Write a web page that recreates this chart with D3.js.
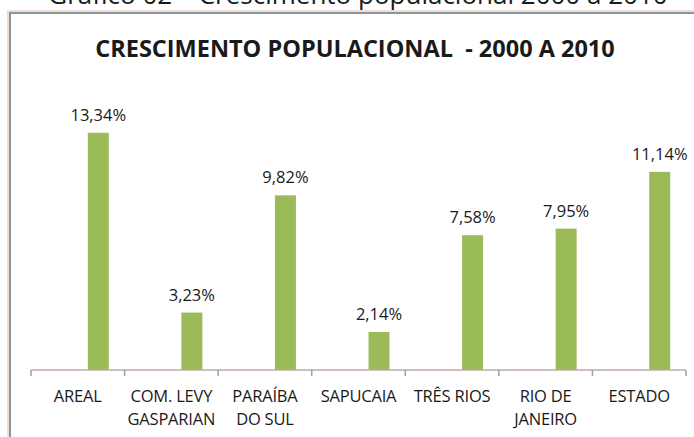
<!DOCTYPE html>
<html>
<head>
<meta charset="utf-8">
<script src="https://cdn.jsdelivr.net/npm/d3@7"></script>
<style>
  body { margin: 0; background: #fff; }
  text { font-family: "Open Sans", sans-serif; fill: #1a1a1a; }
</style>
</head>
<body>
<svg></svg>
<script>
const width = 694;
const height = 437;

// data
const categories = ["AREAL", "COM. LEVY GASPARIAN", "PARAÍBA DO SUL", "SAPUCAIA", "TRÊS RIOS", "RIO DE JANEIRO", "ESTADO"];
const labelLines = [["AREAL"], ["COM. LEVY", "GASPARIAN"], ["PARAÍBA", "DO SUL"], ["SAPUCAIA"], ["TRÊS RIOS"], ["RIO DE", "JANEIRO"], ["ESTADO"]];
const values = [13.34, 3.23, 9.82, 2.14, 7.58, 7.95, 11.14];

const svg = d3.select("svg")
  .attr("width", width)
  .attr("height", height);

// caption of the page, cut off at the top as in the scan
svg.append("text")
  .attr("x", 358)
  .attr("y", 4)
  .attr("text-anchor", "middle")
  .attr("font-size", 26)
  .text("Gráfico 02 – Crescimento populacional 2000 a 2010");

// chart frame
svg.append("rect")
  .attr("x", 9).attr("y", 12)
  .attr("width", 720).attr("height", 460)
  .attr("fill", "none")
  .attr("stroke", "#f7dccb")
  .attr("stroke-width", 4);
svg.append("rect")
  .attr("x", 10).attr("y", 13)
  .attr("width", 720).attr("height", 460)
  .attr("fill", "none")
  .attr("stroke", "#8797a2")
  .attr("stroke-width", 2);

svg.append("text")
  .attr("x", 355)
  .attr("y", 57)
  .attr("text-anchor", "middle")
  .attr("font-size", 23.5)
  .attr("font-weight", "bold")
  .attr("fill", "#000")
  .style("white-space", "pre")
  .text("CRESCIMENTO POPULACIONAL  - 2000 A 2010");

const x = d3.scaleBand()
  .domain(categories)
  .range([31, 686]);

const y = d3.scaleLinear()
  .domain([0, 14])
  .range([370, 121]);

const barW = 21;
const barShift = 20.5; // bars sit right of the category centre

const cx = d => x(d) + x.bandwidth() / 2;
const fmt = v => d3.format(".2f")(v).replace(".", ",") + "%";

// bars
svg.append("g")
  .selectAll("rect")
  .data(values)
  .enter().append("rect")
  .attr("x", (d, i) => cx(categories[i]) + barShift - barW / 2)
  .attr("y", d => y(d))
  .attr("width", barW)
  .attr("height", d => y(0) - y(d))
  .attr("fill", "#9bbb59");

// value labels
svg.append("g")
  .selectAll("text")
  .data(values)
  .enter().append("text")
  .attr("x", (d, i) => cx(categories[i]) + barShift)
  .attr("y", d => y(d) - 12)
  .attr("text-anchor", "middle")
  .attr("font-size", 16.5)
  .text(d => fmt(d));

// axis line and boundary ticks
const axis = svg.append("g");
axis.append("line")
  .attr("x1", x.range()[0]).attr("x2", x.range()[1])
  .attr("y1", y(0)).attr("y2", y(0))
  .attr("stroke", "#c3a9a9")
  .attr("stroke-width", 1.5);
axis.selectAll(".tick")
  .data(categories.map(c => x(c)).concat([x.range()[1]]))
  .enter().append("line")
  .attr("x1", d => d).attr("x2", d => d)
  .attr("y1", y(0)).attr("y2", y(0) + 6)
  .attr("stroke", "#8fa3b3")
  .attr("stroke-width", 1.5);

// category labels, one text per line
svg.append("g")
  .selectAll("text")
  .data(labelLines.flatMap((lines, i) => lines.map((t, j) => ({ t, j, c: categories[i] }))))
  .enter().append("text")
  .attr("x", d => cx(d.c))
  .attr("y", d => 402 + d.j * 22.5)
  .attr("text-anchor", "middle")
  .attr("font-size", 16.5)
  .attr("letter-spacing", -0.2)
  .text(d => d.t);
</script>
</body>
</html>
